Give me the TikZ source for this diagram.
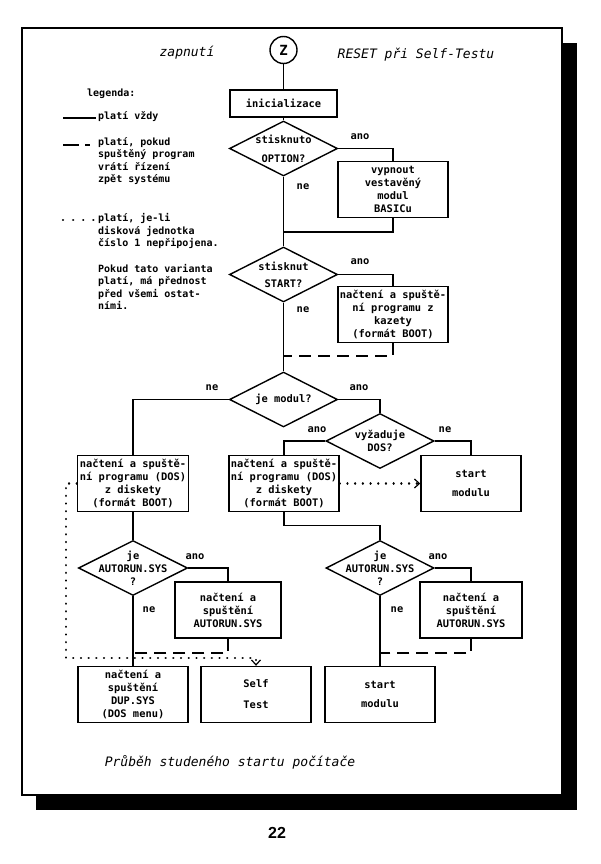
\documentclass[tikz,border=0pt]{standalone}
\usepackage{fontspec}
\usepackage{tikz}
\usetikzlibrary{arrows.meta,shapes.geometric}
\newfontfamily\dotfont{DejaVu Sans Mono}
\newfontfamily\numfont{Liberation Sans}
\tikzset{
  flowbox/.style={draw, line width=1.4pt, minimum width=110pt, minimum height=56pt, inner sep=1pt, align=center, font=\dotfont\bfseries\fontsize{10.4}{13}\selectfont},
  decision/.style={draw, diamond, line width=1.4pt, minimum width=108pt, minimum height=55pt, inner sep=0pt},
  dtext/.style={align=center, inner sep=0pt, font=\dotfont\bfseries\fontsize{10.4}{13}\selectfont},
  answer/.style={inner sep=0pt, font=\dotfont\bfseries\fontsize{10.4}{13}\selectfont},
  legtext/.style={anchor=west, align=left, inner sep=0pt, font=\dotfont\bfseries\fontsize{10}{12.3}\selectfont},
  title/.style={inner sep=0pt, font=\dotfont\itshape\fontsize{13}{15}\selectfont},
  conn/.style={line width=1.2pt},
  dashconn/.style={line width=1.2pt, dash pattern=on 12pt off 7pt},
  dotconn/.style={line width=2.3pt, line cap=round, dash pattern=on 0.1pt off 7.6pt},
  barb/.style={-{Straight Barb[length=5pt, width=9pt, line width=1.2pt]}}
}
\begin{document}
\begin{tikzpicture}[x=1pt, y=-1pt]
  \useasboundingbox (0,0) rectangle (600,864);
  \fill (36,43) rectangle (577,810);
  \draw[line width=2pt, fill=white] (22,28) rectangle (562,795);

  \node[title] (zap) at (187,53) {zapnutí};
  \node[title] (rst) at (416,55) {RESET při Self-Testu};
  \node[draw, circle, line width=1.4pt, minimum size=27pt, inner sep=0pt, font=\dotfont\bfseries\fontsize{14}{16}\selectfont] (z) at (283.5,50) {Z};

  \node[legtext] (leg) at (87,94) {legenda:};
  \draw[conn] (63,118) -- (96,118);
  \node[legtext] (l1) at (98,117) {platí vždy};
  \draw[conn, dash pattern=on 16pt off 6pt] (63,145) -- (90,145);
  \node[legtext] (l2) at (98,161) {platí, pokud\\spuštěný program\\vrátí řízení\\zpět systému};
  \draw[dotconn, dash pattern=on 0.1pt off 10pt] (63,220) -- (95,220);
  \node[legtext] (l3) at (98,231) {platí, je-li\\disková jednotka\\číslo 1 nepřipojena.};
  \node[legtext] (l4) at (98,287) {Pokud tato varianta\\platí, má přednost\\před všemi ostat-\\ními.};

  \node[flowbox, minimum width=107pt, minimum height=27pt] (init) at (283.5,103.5) {inicializace};
  \node[decision] (opt) at (283.5,148.5) {};
  \node[dtext] (optT) at (opt) {stisknuto\\[6pt]OPTION?};
  \node[flowbox] (basic) at (393,189.5) {vypnout\\vestavěný\\modul\\BASICu};
  \node[decision] (start) at (283.5,274.5) {};
  \node[dtext] (startT) at (start) {stisknut\\[4pt]START?};
  \node[flowbox] (kaz) at (393,314.5) {načtení a spuště-\\ní programu z\\kazety\\(formát BOOT)};
  \node[decision] (modul) at (283.5,399.5) {};
  \node[dtext] (modulT) at (modul) {je modul?};
  \node[decision] (dos) at (380,441) {};
  \node[dtext] (dosT) at (dos) {vyžaduje\\DOS?};
  \node[flowbox, minimum width=111pt] (disk1) at (133,483.5) {načtení a spuště-\\ní programu (DOS)\\z diskety\\(formát BOOT)};
  \node[flowbox] (disk2) at (284,483.5) {načtení a spuště-\\ní programu (DOS)\\z diskety\\(formát BOOT)};
  \node[flowbox, minimum width=100pt] (start1) at (471,483.5) {start\\[6pt]modulu};
  \node[decision, minimum width=109pt] (aut1) at (133,568) {};
  \node[dtext] (aut1T) at (aut1) {je\\AUTORUN.SYS\\?};
  \node[flowbox, minimum width=106pt] (ar1) at (228,610) {načtení a\\spuštění\\AUTORUN.SYS};
  \node[decision] (aut2) at (380,568) {};
  \node[dtext] (aut2T) at (aut2) {je\\AUTORUN.SYS\\?};
  \node[flowbox, minimum width=102pt] (ar2) at (471,610) {načtení a\\spuštění\\AUTORUN.SYS};
  \node[flowbox] (dup) at (133,694.5) {načtení a\\spuštění\\DUP.SYS\\(DOS menu)};
  \node[flowbox] (self) at (256,694.5) {Self\\[8pt]Test};
  \node[flowbox] (start2) at (380,694.5) {start\\[6pt]modulu};

  \node[answer] (a1) at (360,137) {ano};
  \node[answer] (n1) at (303,187) {ne};
  \node[answer] (a2) at (360,262) {ano};
  \node[answer] (n2) at (303,310) {ne};
  \node[answer] (n3) at (212,388) {ne};
  \node[answer] (a3) at (359,388) {ano};
  \node[answer] (a4) at (317,430) {ano};
  \node[answer] (n4) at (445,430) {ne};
  \node[answer] (a5) at (195,557) {ano};
  \node[answer] (n5) at (149,610) {ne};
  \node[answer] (a6) at (438,557) {ano};
  \node[answer] (n6) at (397,610) {ne};

  \draw[conn] (z) -- (init);
  \draw[conn] (init) -- (opt);
  \draw[conn] (opt.east) -| (basic.north);
  \draw[conn] (opt) -- (start);
  \coordinate (j1) at (283.5,232);
  \draw[conn] (basic.south) |- (j1);
  \draw[conn] (start.east) -| (kaz.north);
  \draw[conn] (start) -- (modul);
  \coordinate (j2) at (283.5,356);
  \draw[dashconn] (kaz.south) |- (j2);

  \draw[conn] (modul.west) -| (disk1.north);
  \draw[conn] (modul.east) -| (dos.north);
  \draw[conn] (dos.west) -| (disk2.north);
  \draw[conn] (dos.east) -| (start1.north);
  \draw[dotconn, barb] (disk2.east) -- (start1.west);
  \coordinate (dl) at (66,658);
  \draw[dotconn, barb] (disk1.west) -| (dl) -| (self.north);

  \draw[conn] (disk1) -- (aut1);
  \draw[conn] (disk2.south) -- ++(0,13) -| (aut2.north);
  \draw[conn] (aut1.east) -| (ar1.north);
  \draw[conn] (aut1) -- (dup);
  \coordinate (j4) at (133,653);
  \draw[dashconn] (ar1.south) |- (j4);
  \draw[conn] (aut2.east) -| (ar2.north);
  \draw[conn] (aut2) -- (start2);
  \coordinate (j5) at (380,653);
  \draw[dashconn] (ar2.south) |- (j5);

  \node[title] (cap) at (230,762) {Průběh studeného startu počítače};
  \node[font=\numfont\bfseries\fontsize{16}{18}\selectfont] (pg) at (277,833) {22};
\end{tikzpicture}
\end{document}
